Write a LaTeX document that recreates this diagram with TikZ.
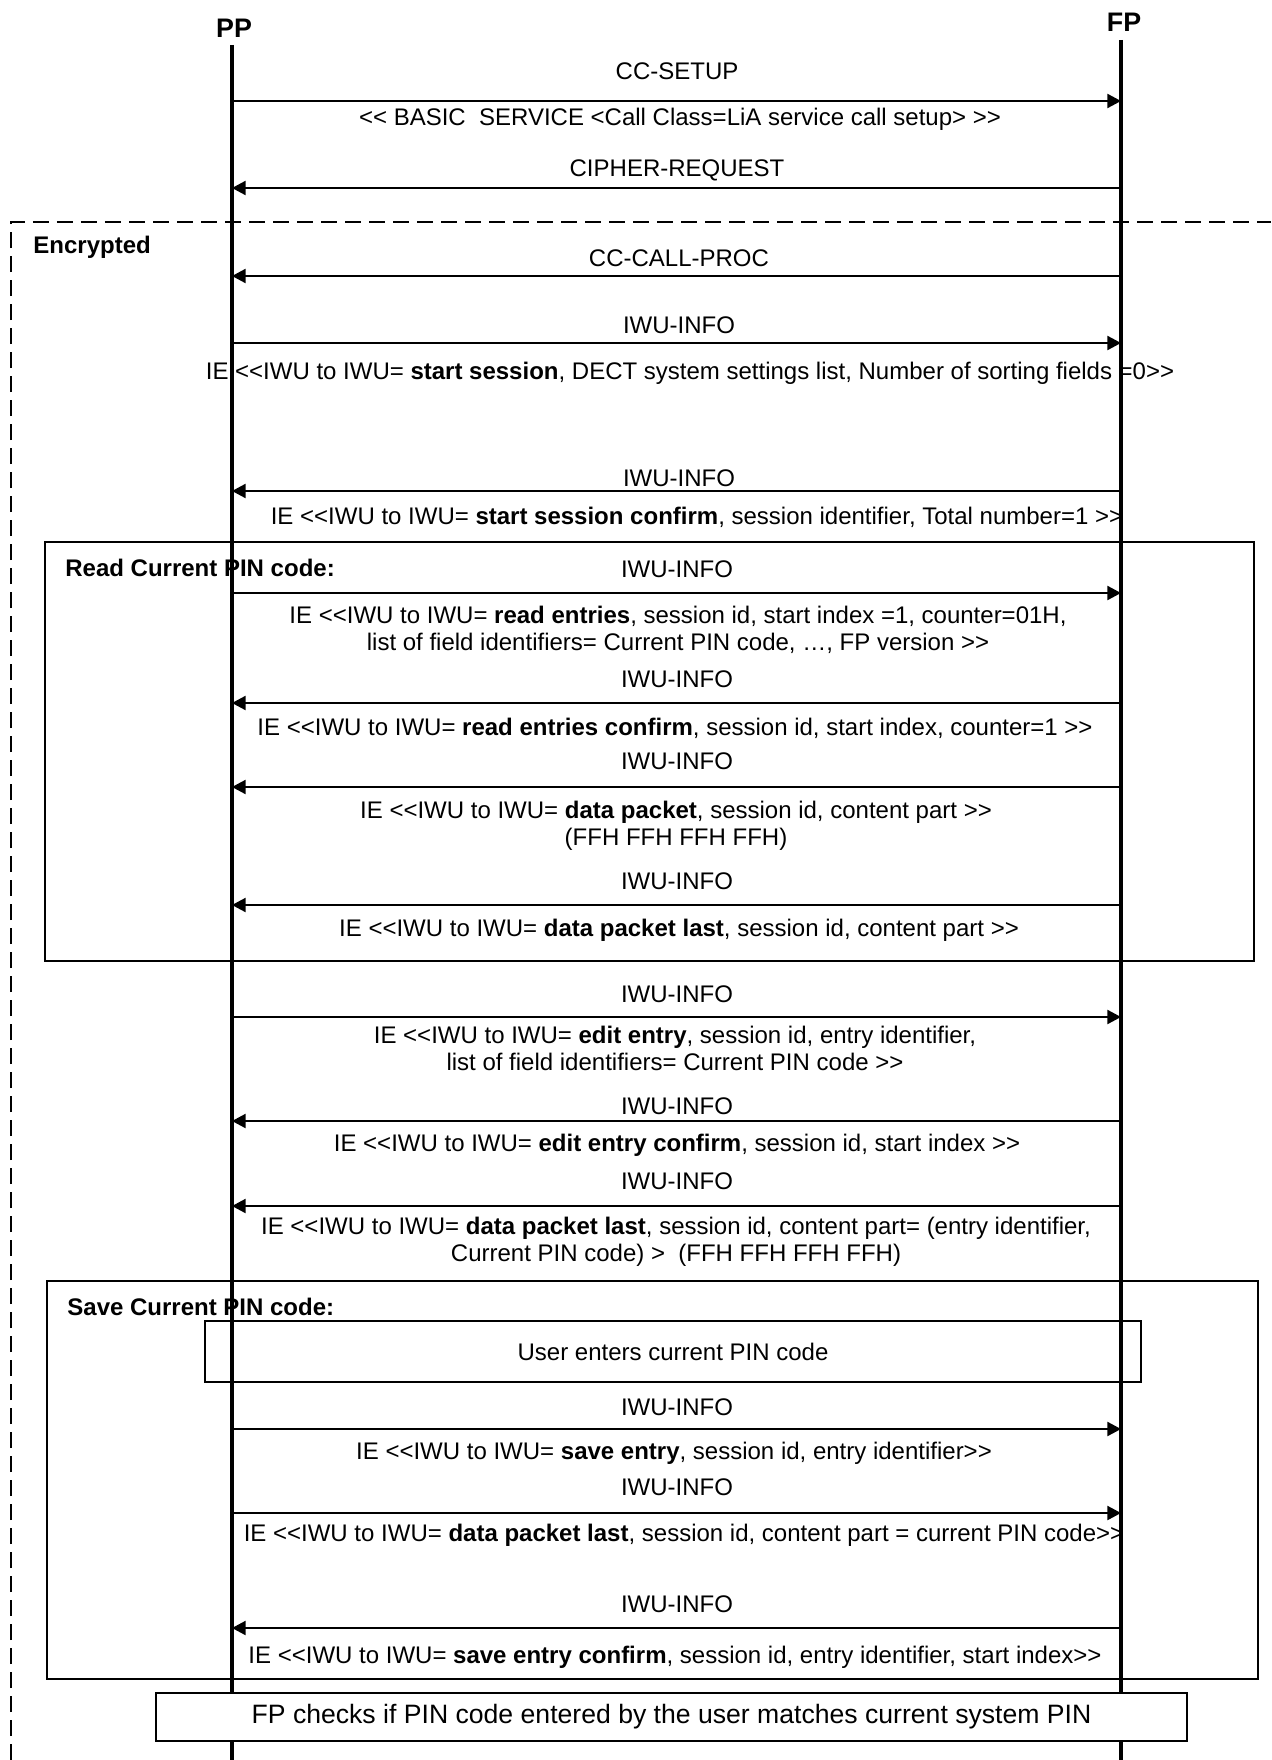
\documentclass[tikz,border=0pt]{standalone}
\usepackage{fontspec}
\setmainfont{Liberation Sans}[Ligatures=TeXOff]
\usetikzlibrary{arrows.meta, positioning, fit}

\begin{document}
\begin{tikzpicture}[
    x=0.5pt, y=-0.5pt,
    font=\fontsize{12}{13.5}\selectfont,
    % Styles
    entity/.style = {font=\fontsize{13.4}{15}\selectfont\bfseries, inner sep=0pt},
    lifeline/.style = {line width=1.9pt},
    msg/.style = {-{Triangle[length=6.8pt, width=7pt]}, line width=1pt},
    msg_text/.style = {inner sep=0pt, align=center},
    group_box/.style = {rectangle, draw=black, line width=0.75pt, inner sep=0pt},
    group_title/.style = {font=\fontsize{12}{13.5}\selectfont\bfseries, inner sep=0pt, anchor=west},
    action_box/.style = {rectangle, draw=black, line width=0.75pt, align=center, inner sep=0pt},
    crypt_line/.style = {line width=0.75pt, dash pattern=on 8pt off 4pt}
]

\useasboundingbox (0,0) rectangle (1271,1760);

% --- ENTITIES ---
\node[entity] (pp) at (234,28) {PP};
\node[entity] (fp) at (1124,22) {FP};
\coordinate (pp_top) at (232,45);
\coordinate (pp_bot) at (232,1760);
\coordinate (fp_top) at (1121,40);
\coordinate (fp_bot) at (1121,1760);

% --- GROUP BOXES ---
\coordinate (read_nw) at (45,542);
\coordinate (read_se) at (1254,961);
\node[group_box, fit=(read_nw) (read_se)] (read_box) {};
\node[group_title] (read_title) at (65,568) {Read Current PIN code:};

\coordinate (save_nw) at (47,1281);
\coordinate (save_se) at (1258,1679);
\node[group_box, fit=(save_nw) (save_se)] (save_box) {};
\node[group_title] (save_title) at (67,1307) {Save Current PIN code:};

\node[action_box, minimum width=468pt, minimum height=30.5pt] (user_box) at (673,1351.5) {User enters current PIN code};

% encrypted area (open to the right and below)
\coordinate (crypt_bl) at (11,1760);
\coordinate (crypt_tl) at (11,222);
\coordinate (crypt_tr) at (1271,222);
\draw[crypt_line] (crypt_bl) -- (crypt_tl) -- (crypt_tr);
\node[group_title] (crypt_title) at (33,247) {Encrypted};

% --- LIFELINES ---
\draw[lifeline] (pp_top) -- (pp_bot);
\draw[lifeline] (fp_top) -- (fp_bot);

\node[action_box, fill=white, minimum width=515.5pt, minimum height=24pt,
      font=\fontsize{13.3}{15}\selectfont] (check_box) at (671.5,1717)
      {FP checks if PIN code entered by the user matches current system PIN};

% --- MESSAGES ---
\foreach \n/\y in {1/101, 2/188, 3/276, 4/343, 5/491, 6/593, 7/703, 8/787, 9/905,
                   10/1017, 11/1121, 12/1206, 13/1429, 14/1513, 15/1628}
  {\coordinate (pp\n) at (232,\y); \coordinate (fp\n) at (1121,\y);}

\draw[msg] (pp1) -- (fp1);
\draw[msg] (fp2) -- (pp2);
\draw[msg] (fp3) -- (pp3);
\draw[msg] (pp4) -- (fp4);
\draw[msg] (fp5) -- (pp5);
\draw[msg] (pp6) -- (fp6);
\draw[msg] (fp7) -- (pp7);
\draw[msg] (fp8) -- (pp8);
\draw[msg] (fp9) -- (pp9);
\draw[msg] (pp10) -- (fp10);
\draw[msg] (fp11) -- (pp11);
\draw[msg] (fp12) -- (pp12);
\draw[msg] (pp13) -- (fp13);
\draw[msg] (pp14) -- (fp14);
\draw[msg] (fp15) -- (pp15);

% --- MESSAGE TEXTS ---
\node[msg_text] (t1) at (677,71) {CC-SETUP};
\node[msg_text] (t1_ie) at (680,119) {<< BASIC\ \ SERVICE <Call Class=LiA service call setup> >>};
\node[msg_text] (t2) at (677,170) {CIPHER-REQUEST};
\node[msg_text] (t3) at (679,258) {CC-CALL-PROC};
\node[msg_text] (t4) at (679,325) {IWU-INFO};
\node[msg_text] (t4_ie) at (690,373) {IE <<IWU to IWU= \textbf{start session}, DECT system settings list, Number of sorting fields =0>>};
\node[msg_text] (t5) at (679,478) {IWU-INFO};
\node[msg_text] (t5_ie) at (697,517) {IE <<IWU to IWU= \textbf{start session confirm}, session identifier, Total number=1 >>};
\node[msg_text] (t6) at (677,569) {IWU-INFO};
\node[msg_text] (t6_ie) at (678,629.5) {IE <<IWU to IWU= \textbf{read entries}, session id, start index =1, counter=01H,\\list of field identifiers= Current PIN code, …, FP version >>};
\node[msg_text] (t7) at (677,679) {IWU-INFO};
\node[msg_text] (t7_ie) at (675,728) {IE <<IWU to IWU= \textbf{read entries confirm}, session id, start index, counter=1 >>};
\node[msg_text] (t8) at (677,761) {IWU-INFO};
\node[msg_text] (t8_ie) at (676,825.5) {IE <<IWU to IWU= \textbf{data packet}, session id, content part >>\\(FFH FFH FFH FFH)};
\node[msg_text] (t9) at (677,881) {IWU-INFO};
\node[msg_text] (t9_ie) at (679,930) {IE <<IWU to IWU= \textbf{data packet last}, session id, content part >>};
\node[msg_text] (t10) at (677,994) {IWU-INFO};
\node[msg_text] (t10_ie) at (675,1048) {IE <<IWU to IWU= \textbf{edit entry}, session id, entry identifier,\\list of field identifiers= Current PIN code >>};
\node[msg_text] (t11) at (677,1106) {IWU-INFO};
\node[msg_text] (t11_ie) at (677,1145) {IE <<IWU to IWU= \textbf{edit entry confirm}, session id, start index >>};
\node[msg_text] (t12) at (677,1181) {IWU-INFO};
\node[msg_text] (t12_ie) at (676,1242) {IE <<IWU to IWU= \textbf{data packet last}, session id, content part= (entry identifier,\\Current PIN code) >\ \ (FFH FFH FFH FFH)};
\node[msg_text] (t13) at (677,1407) {IWU-INFO};
\node[msg_text] (t13_ie) at (674,1453) {IE <<IWU to IWU= \textbf{save entry}, session id, entry identifier>>};
\node[msg_text] (t14) at (677,1487) {IWU-INFO};
\node[msg_text] (t14_ie) at (684,1535) {IE <<IWU to IWU= \textbf{data packet last}, session id, content part = current PIN code>>};
\node[msg_text] (t15) at (677,1604) {IWU-INFO};
\node[msg_text] (t15_ie) at (675,1657) {IE <<IWU to IWU= \textbf{save entry confirm}, session id, entry identifier, start index>>};

\end{tikzpicture}
\end{document}
